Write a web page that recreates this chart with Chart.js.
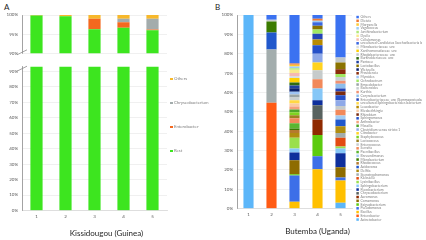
<!DOCTYPE html>
<html>
<head>
<meta charset="utf-8">
<script src="https://cdn.jsdelivr.net/npm/chart.js@4.4.1/dist/chart.umd.min.js"></script>
<style>
  body { margin: 0; background: #fff; }
  #wrap { position: relative; width: 426px; height: 240px; overflow: hidden; font-family: Lato, "Liberation Sans", sans-serif; }
  canvas { position: absolute; }
  .letter { position: absolute; font-size: 8px; color: #222; line-height: 1; }
  .legA { position: absolute; left: 170px; font-size: 4.3px; color: #7f7f7f; line-height: 1; white-space: nowrap; }
  .legA span { display: inline-block; width: 2.5px; height: 2.5px; margin-right: 1.5px; vertical-align: middle; }
</style>
</head>
<body>
<div id="wrap">
  <div class="letter" style="left:4px; top:3px">A</div>
  <div class="letter" style="left:215px; top:3px">B</div>
  <canvas id="chartAlow" width="213" height="180" style="left:0; top:60px"></canvas>
  <canvas id="chartAtop" width="213" height="60" style="left:0; top:0"></canvas>
  <canvas id="chartB" width="213" height="240" style="left:213px; top:0"></canvas>
  <div id="legendA"></div>
</div>
<script>
// ---- Kissidougou (Guinea) ----
const samplesA = ['1', '2', '3', '4', '5'];
const restA = [99.9, 99.7, 96.3, 96.7, 96.0];
const enterobacterA = [0, 0, 2.7, 1.4, 0.2];
const chryseoA = [0, 0, 0, 0.9, 2.8];
const othersA = [0.1, 0.3, 1.0, 1.0, 1.0];
const seriesNamesA = ['Rest', 'Enterobacter', 'Chryseobacterium', 'Others'];
const seriesColorsA = ['#3de51f', '#f4681f', '#a3acac', '#f7b82b'];

// ---- Butemba (Uganda) ---- taxa from bottom of stack to top
const samplesB = ['1', '2', '3', '4', '5'];
const taxaB = [
  'Acinetobacter', 'Enterobacter', 'Bacillus', 'Pseudomonas', 'Exiguobacterium',
  'Comamonas', 'Aeromonas', 'Chryseobacterium', 'Flavobacterium', 'Sphingobacterium',
  'Lysinibacillus', 'Klebsiella', 'Stenotrophomonas', 'Delftia', 'Acidovorax',
  'Rhodococcus', 'Microbacterium', 'Brevundimonas', 'Paenibacillus', 'Serratia',
  'Enterococcus', 'Lactococcus', 'Staphylococcus', 'Citrobacter', 'Clostridium sensu stricto 1',
  'Massilia', 'Arthrobacter', 'Sphingomonas', 'Rhizobium', 'Elizabethkingia',
  'Leucobacter', 'uncultured Sphingobacteriales bacterium', 'Enterobacteriaceae_unc (Gammaproteobacteria)', 'Corynebacterium', 'Kurthia',
  'Bacteroides', 'Empedobacter', 'Ochrobactrum', 'Myroides', 'Providencia',
  'Weissella', 'Lactobacillus', 'Pantoea', 'Burkholderiaceae_unc', 'Rhodobacteraceae_unc',
  'Xanthomonadaceae_unc', 'Microbacteriaceae_unc', 'uncultured Candidatus Saccharibacteria bacterium', 'Cellulomonas', 'Dyella',
  'Janthinobacterium', 'Vagococcus', 'Morganella', 'Dietzia', 'Others'
];
const colorsB = [
  '#5cb6f9', '#ff5b14', '#ffc000', '#3d6fe8', '#5ccb0e',
  '#8e6c00', '#8f2a00', '#58625f', '#0e2f9c', '#86c7f7',
  '#9adf4c', '#e34b12', '#a3adad', '#b08d10', '#2158cc',
  '#b57a2e', '#3b7b00', '#a2cbf2', '#5bb630', '#f2895a',
  '#c6cbcb', '#9c8121', '#7ed321', '#ffd31f', '#8fa9e8',
  '#4fa62b', '#f4a17b', '#2550c8', '#7b2b10', '#f9caa2',
  '#b98b00', '#ffd843', '#2444b8', '#8dbdeb', '#f09171',
  '#c9cfd1', '#9aa4a6', '#a1e862', '#9dc3f5', '#8a2d0b',
  '#0b206b', '#8b7300', '#1f409f', '#2f6b11', '#c1c7c9',
  '#ffd000', '#d9dddd', '#3a67e1', '#f5b9b1', '#f8e98b',
  '#b1e879', '#9dcdf5', '#ffc931', '#f07931', '#3b72f1'
];
const butemba1 = [100,0,0,0,0, 0,0,0,0,0, 0,0,0,0,0, 0,0,0,0,0, 0,0,0,0,0, 0,0,0,0,0, 0,0,0,0,0, 0,0,0,0,0, 0,0,0,0,0, 0,0,0,0,0, 0,0,0,0,0];
const butemba2 = [0,54.7,0,0,0, 0,0,0,0,0, 0,0,27.5,0,8.8, 0,5.6,0,0,0, 0.9,0,0,0,0, 0,0,0,0,0, 0,0,0,0,0, 0,0,0,0,0, 0,0,0,0,0, 0,0,0,0,0, 0,0,0,0,2.5];
const butemba3 = [0,0,3.5,13.5,0.7, 7.3,0,0,4,2, 5.5,0,0,2.5,0, 1.6,0.7,0,2.7,2.7, 0,1.5,1.5,0,0, 1.5,1.5,0,0,1.5, 0,1.7,0,0,0, 1.5,1.5,0,1.5,0, 1.7,0,1.5,1.5,0, 2.4,1.0,0,1.5,1.7, 0.8,0.9,0.9,0.7,25];
const butemba4 = [0,0,20.3,6.7,11, 0,8,7.3,2.7,6, 0,0,0,0,0, 0,0,0,0,4.8, 4.7,0,0,4,4.5, 0,0,4.4,0,0, 3,0,2.9,0,0, 0,0,2.2,0,0, 0,2,0,0,0, 0,0,1.7,0,0, 0,0.8,0,1,2];
const butemba5 = [3,0,11.5,1.5,0, 5.3,0,0,7.2,2.5, 1,4.5,2.5,3.5,3.5, 0,0,2,0,3, 2,0,0,0,3, 0,0,2.5,2,0, 0,0,1.5,2.5,1.5, 2,0,1.5,0,2.5, 0,3.5,0,0,2.5, 0,0,0,0,0, 0,0,0,0,22];

const tickColor = '#595959';
const gridColor = '#e6e6e6';
const axisColor = '#8c8c8c';
Chart.defaults.font.family = 'Lato, "Liberation Sans", sans-serif';
Chart.defaults.animation = false;

const pct = v => v + '%';

// small diagonal marks where the axis of panel A is broken
const axisBreak = {
  id: 'axisBreak',
  afterDraw(chart, args, opts) {
    const {ctx, chartArea} = chart;
    const x = chartArea.left;
    const y = opts.edge === 'bottom' ? chartArea.bottom - 1 : chartArea.top + 2;
    ctx.save();
    ctx.strokeStyle = axisColor;
    ctx.lineWidth = 0.8;
    ctx.beginPath();
    ctx.moveTo(x - 5, y + 2.5);
    ctx.lineTo(x + 5, y - 2.5);
    ctx.stroke();
    ctx.restore();
  }
};

function datasetsA() {
  const vals = [restA, enterobacterA, chryseoA, othersA];
  return vals.map((d, i) => ({
    label: seriesNamesA[i], data: d, backgroundColor: seriesColorsA[i],
    borderWidth: 0, stack: 's', barPercentage: 0.42, categoryPercentage: 1
  }));
}

function yAxis(extra) {
  return Object.assign({
    stacked: true,
    grid: { color: gridColor, lineWidth: 0.6, drawTicks: false },
    border: { color: axisColor, width: 0.8 },
    ticks: { callback: pct, color: tickColor, font: { size: 4.5 }, padding: 4 }
  }, extra);
}

// upper part of panel A: 90-100 %
new Chart(document.getElementById('chartAtop'), {
  type: 'bar',
  data: { labels: samplesA, datasets: datasetsA() },
  options: {
    responsive: false,
    layout: { padding: { top: 15, right: 46, bottom: 6, left: 0 } },
    scales: {
      x: { display: false, stacked: true },
      y: yAxis({ min: 90, max: 100, ticks: { stepSize: 5, callback: pct, color: tickColor, font: { size: 4.5 }, padding: 4 },
        afterFit: s => { s.width = 22; } })
    },
    plugins: { legend: { display: false }, tooltip: { enabled: false }, axisBreak: { edge: 'bottom' } }
  },
  plugins: [axisBreak]
});

// lower part of panel A: 0-90 %
new Chart(document.getElementById('chartAlow'), {
  type: 'bar',
  data: { labels: samplesA, datasets: datasetsA() },
  options: {
    responsive: false,
    layout: { padding: { top: 6, right: 0, bottom: 0, left: 0 } },
    scales: {
      x: { stacked: true, grid: { display: false, drawTicks: false }, border: { color: '#d9d9d9', width: 0.8 },
        ticks: { color: tickColor, font: { size: 4.5 }, padding: 3.5 } },
      y: yAxis({ min: 0, max: 93,
        ticks: { stepSize: 10, includeBounds: false, callback: pct, color: tickColor, font: { size: 4.5 }, padding: 4 },
        afterFit: s => { s.width = 22; } }),
      spacer: { type: 'linear', position: 'right', grid: { display: false }, border: { display: false },
        ticks: { display: false }, afterFit: s => { s.width = 46; } }
    },
    plugins: {
      legend: { display: false }, tooltip: { enabled: false },
      title: { display: true, position: 'bottom', text: 'Kissidougou (Guinea)', color: '#262626',
        font: { size: 8, weight: 'normal' }, padding: { top: 5.3, bottom: 2.2 } },
      axisBreak: { edge: 'top' }
    }
  },
  plugins: [axisBreak]
});

// legend of panel A, top item is the top of the stack
const legendA = document.getElementById('legendA');
const legendTopsA = [77, 101, 125, 149];
seriesNamesA.slice().reverse().forEach((name, i) => {
  const row = document.createElement('div');
  row.className = 'legA';
  row.style.top = legendTopsA[i] + 'px';
  row.innerHTML = '<span style="background:' + seriesColorsA[seriesNamesA.length - 1 - i] + '"></span>' + name;
  legendA.appendChild(row);
});

// panel B
const samplesDataB = [butemba1, butemba2, butemba3, butemba4, butemba5];
new Chart(document.getElementById('chartB'), {
  type: 'bar',
  data: {
    labels: samplesB,
    datasets: taxaB.map((name, i) => ({
      label: name, data: samplesDataB.map(s => s[i]), backgroundColor: colorsB[i],
      borderWidth: 0, stack: 's', barPercentage: 0.44, categoryPercentage: 1
    }))
  },
  options: {
    responsive: false,
    layout: { padding: { top: 15, right: 4, bottom: 2, left: 0 } },
    scales: {
      x: { stacked: true, grid: { display: false, drawTicks: false }, border: { color: '#d9d9d9', width: 0.8 },
        ticks: { color: tickColor, font: { size: 4.5 }, padding: 3.5 } },
      y: yAxis({ min: 0, max: 100,
        ticks: { stepSize: 10, callback: pct, color: tickColor, font: { size: 4.5 }, padding: 4 },
        afterFit: s => { s.width = 24; } }),
      spacer: { type: 'linear', position: 'right', grid: { display: false }, border: { display: false },
        ticks: { display: false }, afterFit: s => { s.width = 4; } }
    },
    plugins: {
      tooltip: { enabled: false },
      legend: {
        position: 'right', align: 'start', reverse: true, maxWidth: 66,
        labels: { boxWidth: 2.5, boxHeight: 2.5, padding: 0.35, color: '#7f7f7f', font: { size: 3.4 } }
      },
      title: { display: true, position: 'bottom', text: 'Butemba (Uganda)', color: '#262626',
        font: { size: 8, weight: 'normal' }, padding: { top: 5.3, bottom: 2.2 } }
    }
  }
});
</script>
</body>
</html>
